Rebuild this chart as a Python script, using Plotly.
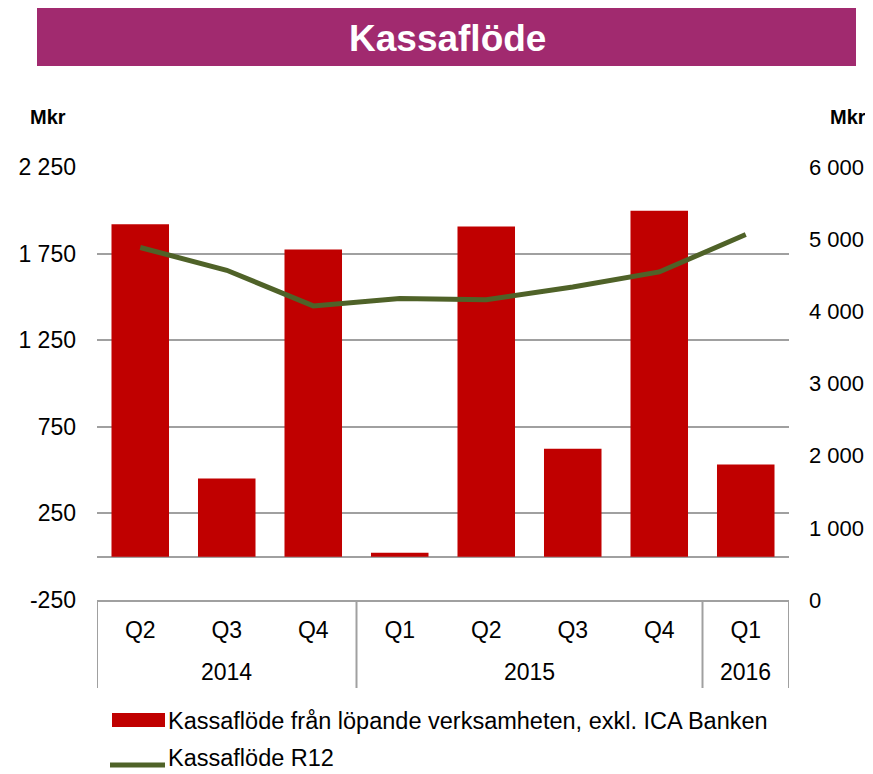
import plotly.graph_objects as go

# ---- data ----
quarters = ["Q2", "Q3", "Q4", "Q1", "Q2", "Q3", "Q4", "Q1"]
years = ["2014", "2015", "2016"]
year_span = [3, 4, 1]  # number of quarters per year group
kassaflode = [1919, 452, 1773, 23, 1906, 623, 1998, 533]
kassaflode_r12 = [4884, 4569, 4075, 4177, 4161, 4338, 4546, 5064]
left_ticks = [-250, 250, 750, 1250, 1750, 2250]
left_tick_labels = ["-250", "250", "750", "1 250", "1 750", "2 250"]
right_ticks = [0, 1000, 2000, 3000, 4000, 5000, 6000]
right_tick_labels = ["0", "1 000", "2 000", "3 000", "4 000", "5 000", "6 000"]

BAR_COLOR = "#C00000"
LINE_COLOR = "#4F6228"
GRID = "#A0A0A0"
TITLE_BG = "#A12A6F"
FONT = "Liberation Sans, Arial, sans-serif"

OFF = 8  # page body margin in the browser
W, H = 873 - OFF, 774 - OFF
# plot area in screen pixels: x 97..789, y 167..600
SX0, SX1, SY0, SY1 = 97, 789, 167, 600
L = SX0 - OFF
T = SY0 - OFF
R = W - (SX1 - OFF)
B = H - (SY1 - OFF)
PW, PH = W - L - R, H - T - B


def px(xs):
    return (xs - SX0) / PW


def py(ys):
    return (SY1 - ys) / PH


x = list(range(len(quarters)))

fig = go.Figure()
fig.add_trace(go.Bar(x=x, y=kassaflode, marker=dict(color=BAR_COLOR, line=dict(width=0)),
                     name="Kassaflöde från löpande verksamheten, exkl. ICA Banken",
                     yaxis="y"))
fig.add_trace(go.Scatter(x=x, y=kassaflode_r12, mode="lines",
                         line=dict(color=LINE_COLOR, width=5),
                         name="Kassaflöde R12", yaxis="y2"))

shapes = []
annotations = []

# title box
shapes.append(dict(type="rect", xref="paper", yref="paper",
                   x0=px(37), x1=px(856), y0=py(66), y1=py(8),
                   fillcolor=TITLE_BG, line=dict(width=0), layer="below"))
annotations.append(dict(text="<b>Kassaflöde</b>", xref="paper", yref="paper",
                        x=px(447), y=py(38), xanchor="center", yanchor="middle",
                        showarrow=False, font=dict(size=37, color="white", family=FONT)))

# Mkr labels
annotations.append(dict(text="<b>Mkr</b>", xref="paper", yref="paper", x=px(48), y=py(117),
                        xanchor="center", yanchor="middle", showarrow=False,
                        font=dict(size=20, color="black", family=FONT)))
annotations.append(dict(text="<b>Mkr</b>", xref="paper", yref="paper", x=px(848), y=py(117),
                        xanchor="center", yanchor="middle", showarrow=False,
                        font=dict(size=20, color="black", family=FONT)))

# category table dividers and year labels
start = 0
bounds = [-0.5]
for yr, n in zip(years, year_span):
    annotations.append(dict(text=yr, xref="x", yref="paper",
                            x=start + (n - 1) / 2, y=py(672),
                            xanchor="center", yanchor="middle", showarrow=False,
                            font=dict(size=23, color="black", family=FONT)))
    start += n
    bounds.append(start - 0.5)
for b in bounds:
    shapes.append(dict(type="line", xref="x", yref="paper", x0=b, x1=b,
                       y0=0, y1=py(688), line=dict(color=GRID, width=2)))

# custom legend
shapes.append(dict(type="rect", xref="paper", yref="paper",
                   x0=px(112), x1=px(165), y0=py(727), y1=py(713),
                   fillcolor=BAR_COLOR, line=dict(width=0)))
annotations.append(dict(text="Kassaflöde från löpande verksamheten, exkl. ICA Banken",
                        xref="paper", yref="paper", x=px(166), y=py(721),
                        xanchor="left", yanchor="middle", showarrow=False,
                        font=dict(size=23.5, color="black", family=FONT)))
shapes.append(dict(type="line", xref="paper", yref="paper",
                   x0=px(110), x1=px(165), y0=py(765), y1=py(765),
                   line=dict(color=LINE_COLOR, width=5)))
annotations.append(dict(text="Kassaflöde R12",
                        xref="paper", yref="paper", x=px(166), y=py(758),
                        xanchor="left", yanchor="middle", showarrow=False,
                        font=dict(size=23.5, color="black", family=FONT)))

fig.update_layout(
    width=W, height=H,
    margin=dict(l=L, r=R, t=T, b=B, autoexpand=False),
    paper_bgcolor="white", plot_bgcolor="white",
    showlegend=False,
    bargap=0.335,
    font=dict(family=FONT, size=23, color="black"),
    xaxis=dict(range=[-0.5, len(quarters) - 0.5], tickmode="array", tickvals=x,
               ticktext=quarters, showgrid=False, zeroline=False,
               showline=True, linecolor=GRID, linewidth=2, ticks="",
               ticklabelstandoff=8, tickfont=dict(size=23, family=FONT)),
    yaxis=dict(range=[-250, 2250], tickmode="array", tickvals=left_ticks,
               ticktext=left_tick_labels, showgrid=True, gridcolor=GRID, gridwidth=2,
               zeroline=True, zerolinecolor=GRID, zerolinewidth=2,
               showline=False, ticks="", ticklabelstandoff=20,
               tickfont=dict(size=23, family=FONT)),
    yaxis2=dict(range=[0, 6000], tickmode="array", tickvals=right_ticks,
                ticktext=right_tick_labels, overlaying="y", side="right", showgrid=False,
                zeroline=False, showline=False, ticks="", ticklabelstandoff=19,
                tickfont=dict(size=22, family=FONT)),
    shapes=shapes,
    annotations=annotations,
)

fig.write_html("out.html")
